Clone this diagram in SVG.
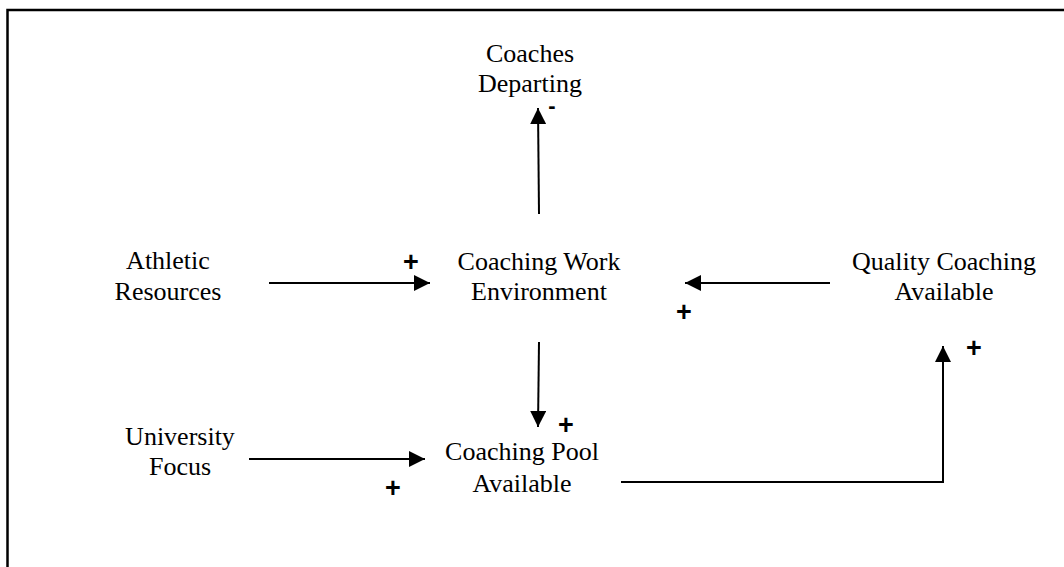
<svg xmlns="http://www.w3.org/2000/svg" width="1064" height="567" viewBox="0 0 1064 567">
  <style>
    .lbl { font-family: "Liberation Serif", "Times New Roman", serif; font-size: 26px; fill: #000; text-anchor: middle; }
    .sign { font-family: "Liberation Sans", Arial, sans-serif; font-size: 27px; font-weight: bold; fill: #000; text-anchor: middle; }
    .edge { stroke: #000; stroke-width: 2; fill: none; }
    .frame { stroke: #000; stroke-width: 2.5; fill: none; }
  </style>
  <defs>
    <marker id="arrow" viewBox="0 0 16 16" refX="16" refY="8" markerWidth="16" markerHeight="16" markerUnits="userSpaceOnUse" orient="auto">
      <path d="M0,0 L16,8 L0,16 Z" fill="#000"/>
    </marker>
  </defs>
  <rect width="1064" height="567" fill="#fff"/>
  <!-- open frame: top and left edges only -->
  <path class="frame" d="M7.5,575 L7.5,10 L1070,10"/>

  <g id="coaches-departing">
    <text class="lbl" x="530" y="62">Coaches</text>
    <text class="lbl" x="530" y="92">Departing</text>
  </g>
  <g id="athletic-resources">
    <text class="lbl" x="168" y="269">Athletic</text>
    <text class="lbl" x="168" y="300">Resources</text>
  </g>
  <g id="coaching-work-environment">
    <text class="lbl" x="539" y="270">Coaching Work</text>
    <text class="lbl" x="539" y="300">Environment</text>
  </g>
  <g id="quality-coaching-available">
    <text class="lbl" x="944" y="270">Quality Coaching</text>
    <text class="lbl" x="944" y="300">Available</text>
  </g>
  <g id="university-focus">
    <text class="lbl" x="180" y="445">University</text>
    <text class="lbl" x="180" y="475">Focus</text>
  </g>
  <g id="coaching-pool-available">
    <text class="lbl" x="522" y="460">Coaching Pool</text>
    <text class="lbl" x="522" y="492">Available</text>
  </g>

  <g id="connectors">
    <path class="edge" marker-end="url(#arrow)" d="M539,214 L538,108"/>
    <path class="edge" marker-end="url(#arrow)" d="M269,283 L430,283"/>
    <path class="edge" marker-end="url(#arrow)" d="M830,283 L685,283"/>
    <path class="edge" marker-end="url(#arrow)" d="M539,342 L538,427"/>
    <path class="edge" marker-end="url(#arrow)" d="M249,459 L425,459"/>
    <path class="edge" marker-end="url(#arrow)" d="M621,482 L943,482 L943,346"/>
  </g>

  <g id="polarities">
    <text class="sign" x="552" y="113" style="font-size:22px">-</text>
    <text class="sign" x="411" y="271">+</text>
    <text class="sign" x="684" y="321">+</text>
    <text class="sign" x="566" y="434">+</text>
    <text class="sign" x="393" y="497">+</text>
    <text class="sign" x="974" y="357">+</text>
  </g>
</svg>
